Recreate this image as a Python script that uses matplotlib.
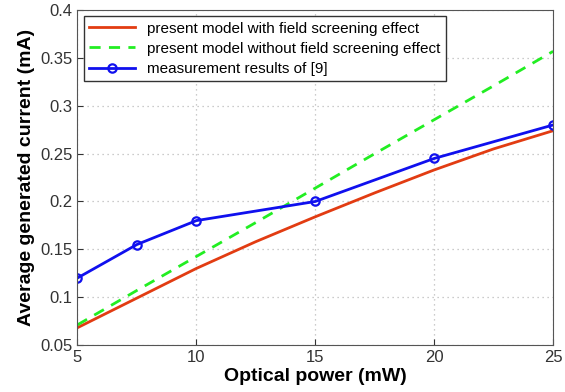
import matplotlib.pyplot as plt

plt.rcParams['font.family'] = ['Liberation Sans', 'DejaVu Sans']

power_model = [5, 7.5, 10, 12.5, 15, 17.5, 20, 22.5, 25]
with_screening = [0.068, 0.099, 0.130, 0.158, 0.184, 0.209, 0.233, 0.255, 0.274]
without_screening = [0.071, 0.107, 0.1425, 0.178, 0.214, 0.250, 0.2855, 0.321, 0.357]

power_meas = [5, 7.5, 10, 15, 20, 25]
measured = [0.12, 0.155, 0.18, 0.2, 0.245, 0.28]

fig = plt.figure(figsize=(5.65, 3.92), dpi=100)
ax = fig.add_axes([0.137, 0.12, 0.842, 0.854])

ax.plot(power_model, with_screening, color='#e23c12', lw=2,
        label='present model with field screening effect')
ax.plot(power_model, without_screening, color='#22ee22', lw=2, ls=(0, (4, 3)),
        label='present model without field screening effect')
ax.plot(power_meas, measured, color='#1010ee', lw=2, marker='o', ms=6,
        mfc='none', mew=1.6, label='measurement results of [9]')

ax.set_xlim(5, 25)
ax.set_ylim(0.05, 0.4)
ax.set_xticks([5, 10, 15, 20, 25])
ax.set_yticks([0.05, 0.1, 0.15, 0.2, 0.25, 0.3, 0.35, 0.4])
ax.set_yticklabels(['0.05', '0.1', '0.15', '0.2', '0.25', '0.3', '0.35', '0.4'])
ax.tick_params(direction='in', labelsize=12, colors='#333333', length=4)
ax.grid(True, ls=(0, (1, 3)), color='#bbbbbb', lw=0.9)
for s in ax.spines.values():
    s.set_color('#555555')

ax.set_xlabel('Optical power (mW)', fontsize=14, fontweight='bold', labelpad=2)
ax.set_ylabel('Average generated current (mA)', fontsize=14, fontweight='bold', labelpad=4)

leg = ax.legend(loc='upper left', fontsize=11, fancybox=False, framealpha=1,
                edgecolor='#333333', handlelength=3, borderaxespad=0.4,
                labelspacing=0.4, borderpad=0.35)
leg.get_frame().set_linewidth(1.0)

fig.savefig('out.png', dpi=100)
